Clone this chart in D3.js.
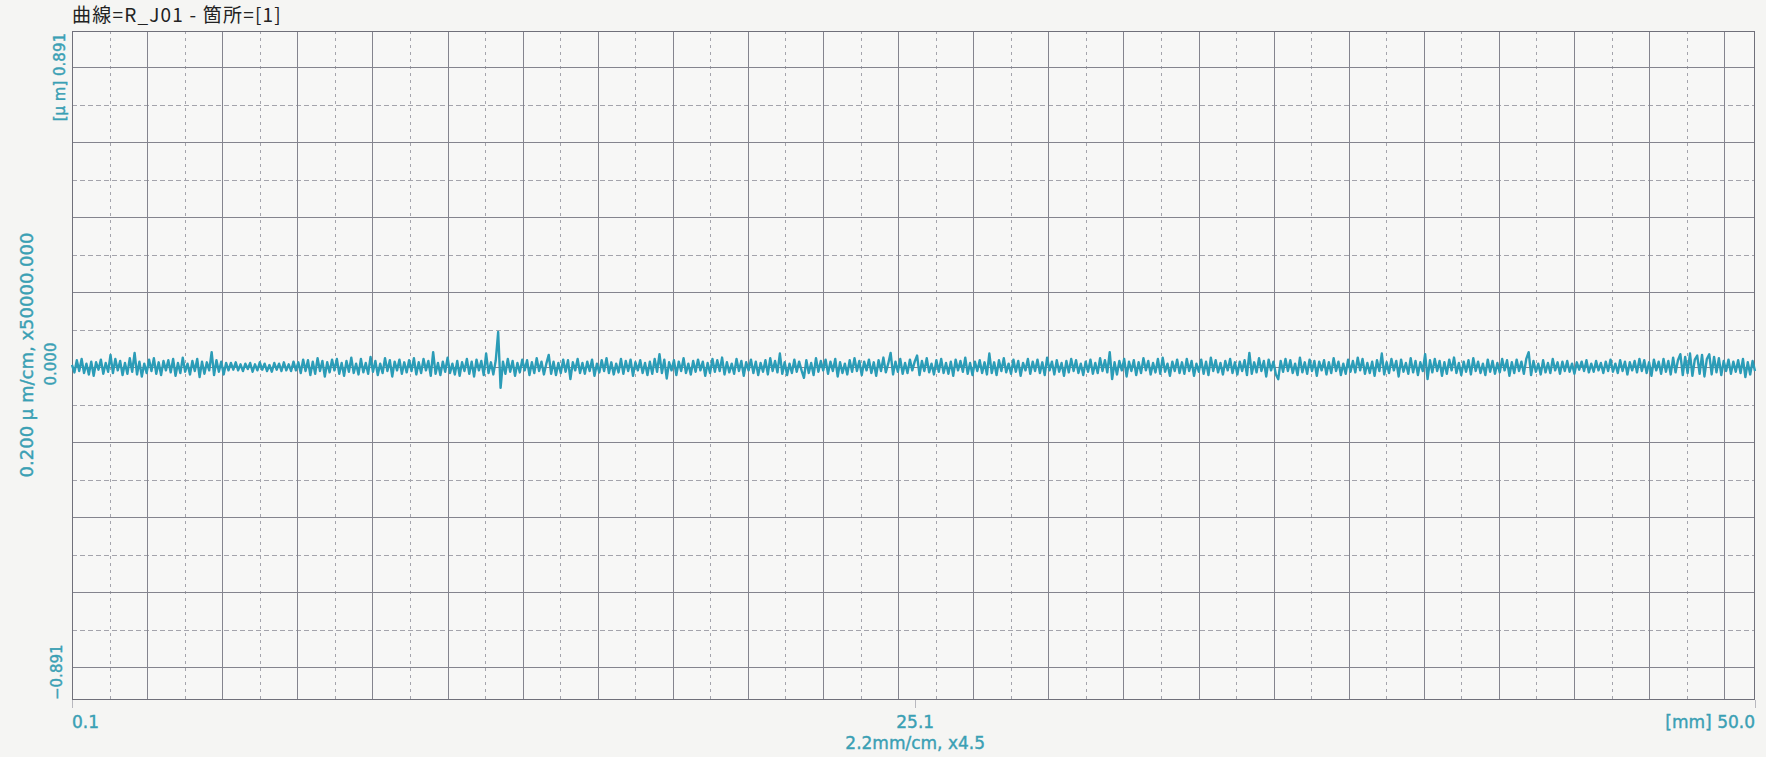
<!DOCTYPE html>
<html>
<head>
<meta charset="utf-8">
<script src="https://cdn.jsdelivr.net/npm/d3@7"></script>
<style>
  body { margin: 0; background: #f5f5f3; }
  svg { display: block; }
</style>
</head>
<body>
<svg id="chart"></svg>
<script>
// Chart texts
var title = "曲線=R_J01 - 箇所=[1]";
var xTickValues = [0.1, 25.1, 50.0];
var xTickLabels = ["0.1", "25.1", "[mm] 50.0"];
var xUnitLabel = "2.2mm/cm, x4.5";
var yTickValues = [0.891, 0.0, -0.891];
var yTickLabels = ["[\u03bc m] 0.891", "0.000", "\u22120.891"];
var yUnitLabel = "0.200 \u03bc m/cm, x50000.000";

// Ranges of the two axes (mm and µm)
var xDomain = [0.1, 50.0];
var yDomain = [-0.989, 0.998];

// Grid cell sizes (one paper cm)
var xGridStep = 2.2267; // mm
var yGridStep = 0.22275; // µm

var profileNm = [
  6,-16,20,-12,24,-18,10,-22,16,-26,14,-8,22,-20,12,-14,36,-18,24,-10,
  18,-24,12,-20,26,-14,42,-22,16,-28,10,-18,22,-12,26,-20,14,-24,18,-10,
  20,-16,24,-26,12,-18,28,-14,10,-22,18,-12,24,-30,16,-20,14,-10,44,-24,
  20,-14,16,-22,12,-10,12,-8,14,-10,8,-12,10,-6,12,-14,8,-10,14,-8,
  10,-12,6,-14,12,-8,10,-12,14,-10,8,-12,16,-10,14,-18,22,-12,20,-24,
  16,-20,26,-12,18,-28,14,-16,22,-10,24,-20,12,-26,18,-14,28,-18,10,-22,
  24,-16,12,-20,30,-14,18,-24,10,-18,26,-12,20,-28,16,-10,22,-20,14,-16,
  20,-12,26,-22,14,-18,24,-10,18,-26,44,-20,12,-24,16,-14,28,-18,10,-22,
  18,-26,14,-12,24,-20,16,-28,22,-10,18,-24,40,-18,14,-22,20,104,-62,16,
  -20,24,-14,18,-26,12,-16,22,-10,20,-24,14,-18,26,-12,16,-22,10,36,-20,
  16,-24,12,-18,22,-14,20,-36,14,-10,24,-18,12,-20,16,-12,22,-26,10,-16,
  20,-12,26,-18,14,-22,10,-16,24,-20,18,-12,22,-26,14,-10,20,-18,12,-24,
  16,-20,24,-14,38,-18,22,-34,14,-10,20,-24,16,-12,26,-18,10,-22,18,-14,
  22,-10,16,-26,12,-18,24,-14,20,-12,28,-22,14,-16,10,-20,24,-12,18,-26,
  14,-10,22,-18,16,-24,12,-14,20,-22,26,-12,18,-16,40,-20,14,-24,10,-18,
  22,-14,16,-10,-32,20,-18,12,-24,26,-14,18,-10,22,-20,16,-12,24,-28,14,
  -18,10,-22,20,-14,26,-12,18,-24,16,-10,22,-18,14,-26,20,-12,28,-16,10,
  42,-22,16,-14,24,-20,12,-18,22,-10,16,34,-24,18,-12,26,-16,10,-22,20,
  -14,24,-18,12,-20,16,-26,22,-10,18,-14,28,-20,12,-24,16,-12,20,-18,14,
  -22,40,-18,14,-24,20,-12,26,-16,10,-20,22,-14,18,-26,12,-10,24,-20,16,
  -12,22,-18,14,-24,28,-10,16,-22,20,-14,12,-26,18,-16,24,-12,20,-18,10,
  -24,16,-14,22,-20,12,-18,26,-12,20,-16,44,-36,14,-22,18,-10,24,-28,16,
  -12,20,-24,14,-18,26,-10,18,-22,12,-16,24,-20,28,-14,10,-26,16,-12,22,
  -18,14,-20,24,-12,18,-26,10,-14,22,-20,16,-24,28,-12,20,-16,12,-22,18,
  -10,24,-18,14,-22,16,-12,20,-24,42,-20,14,-16,26,-12,18,-28,22,-10,16,
  -22,-36,18,-14,24,-12,20,-18,10,-24,28,-16,14,-20,22,-12,18,-26,16,-10,
  20,-22,14,-18,26,-12,16,-24,10,-20,22,-14,18,-16,28,-10,24,-20,12,-18,
  16,-26,20,-12,40,-22,14,-18,24,-10,18,-28,22,-14,12,-20,26,-16,18,-24,
  14,-12,38,-36,20,-16,24,-12,18,-26,14,-20,22,-10,28,-18,12,-24,16,-14,
  20,-22,26,-12,16,-18,10,-24,22,-14,18,-20,12,-16,24,-10,20,-26,14,-18,
  22,-12,16,-20,24,44,-24,18,-14,10,-22,20,-16,12,-18,24,-10,14,-20,16,
  -12,18,-14,10,-20,14,-8,16,-12,20,-16,10,-14,18,-10,12,-18,16,-12,22,
  -14,10,-18,20,-12,16,-22,14,-10,18,-16,24,-12,20,-18,14,-26,22,-10,16,
  -20,24,-14,18,-22,28,-16,20,38,-24,30,-18,40,-26,22,34,-20,36,-28,24,
  38,-22,30,-16,26,-24,18,-12,22,-20,16,-14,20,-18,24,-30,14,-22,18,-12
];

var width = 1766;
var height = 757;
var margin = { top: 31, right: 11, bottom: 57, left: 72 };
var plotW = width - margin.left - margin.right;
var plotH = height - margin.top - margin.bottom;

var teal = "#3aa0b4";
var labelFont = "DejaVu Sans, sans-serif";

var svg = d3.select("#chart").attr("width", width).attr("height", height);

var x = d3.scaleLinear().domain(xDomain).range([0, plotW]);
var y = d3.scaleLinear().domain(yDomain).range([plotH, 0]);

var g = svg.append("g")
  .attr("transform", "translate(" + margin.left + "," + margin.top + ")");

// grid positions, major every paper cm, dashed at the half
var xMajor = d3.range(xDomain[0] + xGridStep, xDomain[1], xGridStep);
var xMinor = d3.range(xDomain[0] + xGridStep / 2, xDomain[1], xGridStep);
var yMajor = d3.range(-4, 5).map(function (k) { return k * yGridStep; });
var yMinor = d3.range(-5, 5).map(function (k) { return (k + 0.5) * yGridStep; })
  .filter(function (v) { return v > yDomain[0] && v < yDomain[1]; });

g.append("rect")
  .attr("width", plotW)
  .attr("height", plotH)
  .style("fill", "#f7f7f6");

// dashed grid
g.selectAll("line.xminor")
  .data(xMinor)
  .enter()
  .append("line")
  .attr("class", "xminor")
  .attr("x1", function (d) { return Math.round(x(d)) + 0.5; })
  .attr("x2", function (d) { return Math.round(x(d)) + 0.5; })
  .attr("y1", 0)
  .attr("y2", plotH)
  .style("stroke", "#a4a4ac")
  .style("stroke-width", 1)
  .style("stroke-dasharray", "3,4");

g.selectAll("line.yminor")
  .data(yMinor)
  .enter()
  .append("line")
  .attr("class", "yminor")
  .attr("x1", 0)
  .attr("x2", plotW)
  .attr("y1", function (d) { return Math.round(y(d)) + 0.5; })
  .attr("y2", function (d) { return Math.round(y(d)) + 0.5; })
  .style("stroke", "#a4a4ac")
  .style("stroke-width", 1)
  .style("stroke-dasharray", "5,3");

// solid grid
g.selectAll("line.xmajor")
  .data(xMajor)
  .enter()
  .append("line")
  .attr("class", "xmajor")
  .attr("x1", function (d) { return Math.round(x(d)) + 0.5; })
  .attr("x2", function (d) { return Math.round(x(d)) + 0.5; })
  .attr("y1", 0)
  .attr("y2", plotH)
  .style("stroke", "#84848e")
  .style("stroke-width", 1);

g.selectAll("line.ymajor")
  .data(yMajor)
  .enter()
  .append("line")
  .attr("class", "ymajor")
  .attr("x1", 0)
  .attr("x2", plotW)
  .attr("y1", function (d) { return Math.round(y(d)) + 0.5; })
  .attr("y2", function (d) { return Math.round(y(d)) + 0.5; })
  .style("stroke", "#84848e")
  .style("stroke-width", 1);

// frame
g.append("rect")
  .attr("x", 0.5)
  .attr("y", 0.5)
  .attr("width", plotW - 1)
  .attr("height", plotH - 1)
  .style("fill", "none")
  .style("stroke", "#70707a")
  .style("stroke-width", 1);

// the profile trace
var step = (xDomain[1] - xDomain[0]) / (profileNm.length - 1);
var line = d3.line()
  .x(function (d, i) { return x(xDomain[0] + i * step); })
  .y(function (d) { return y(d / 1000); });

g.append("path")
  .datum(profileNm)
  .attr("d", line)
  .style("fill", "none")
  .style("stroke", "#2b9cb7")
  .style("stroke-width", 2.4)
  .style("stroke-linejoin", "round");

// small ticks under the x axis
g.selectAll("line.xtick")
  .data(xTickValues)
  .enter()
  .append("line")
  .attr("class", "xtick")
  .attr("x1", function (d) { return Math.round(x(d)) + 0.5; })
  .attr("x2", function (d) { return Math.round(x(d)) + 0.5; })
  .attr("y1", plotH)
  .attr("y2", plotH + 8)
  .style("stroke", "#b8b8be");

// x labels: first at the left edge, middle centred, last at the right edge
g.selectAll("text.xlabel")
  .data(xTickValues)
  .enter()
  .append("text")
  .attr("class", "xlabel")
  .attr("x", function (d) { return x(d); })
  .attr("y", plotH + 28)
  .attr("text-anchor", function (d, i) {
    return i == 0 ? "start" : i == xTickValues.length - 1 ? "end" : "middle";
  })
  .style("font-family", labelFont)
  .style("font-size", "17px")
  .style("fill", teal)
  .style("stroke", teal)
  .style("stroke-width", 0.4)
  .text(function (d, i) { return xTickLabels[i]; });

g.append("text")
  .attr("x", x(xTickValues[1]))
  .attr("y", plotH + 49)
  .attr("text-anchor", "middle")
  .style("font-family", labelFont)
  .style("font-size", "17px")
  .style("fill", teal)
  .style("stroke", teal)
  .style("stroke-width", 0.4)
  .text(xUnitLabel);

// y labels, turned to read upward; top one hangs from the frame, bottom one sits on it
var yLabelShift = [-7, -16, -10];
g.selectAll("text.ylabel")
  .data(yTickValues)
  .enter()
  .append("text")
  .attr("class", "ylabel")
  .attr("transform", function (d, i) {
    var pos = i == 0 ? 2 : i == yTickValues.length - 1 ? plotH : y(d) - 3;
    return "translate(" + yLabelShift[i] + "," + pos + ") rotate(-90)";
  })
  .attr("text-anchor", function (d, i) {
    return i == 0 ? "end" : i == yTickValues.length - 1 ? "start" : "middle";
  })
  .style("font-family", labelFont)
  .style("font-size", "15px")
  .style("fill", teal)
  .style("stroke", teal)
  .style("stroke-width", 0.4)
  .text(function (d, i) { return yTickLabels[i]; });

g.append("text")
  .attr("transform", "translate(-39," + (y(0) - 12) + ") rotate(-90)")
  .attr("text-anchor", "middle")
  .style("font-family", labelFont)
  .style("font-size", "18px")
  .style("fill", teal)
  .style("stroke", teal)
  .style("stroke-width", 0.4)
  .text(yUnitLabel);

// title
svg.append("text")
  .attr("x", margin.left)
  .attr("y", 22)
  .style("font-family", "Noto Sans CJK JP, sans-serif")
  .style("font-size", "19px")
  .style("letter-spacing", "1.2px")
  .style("fill", "#222")
  .text(title);
</script>
</body>
</html>
